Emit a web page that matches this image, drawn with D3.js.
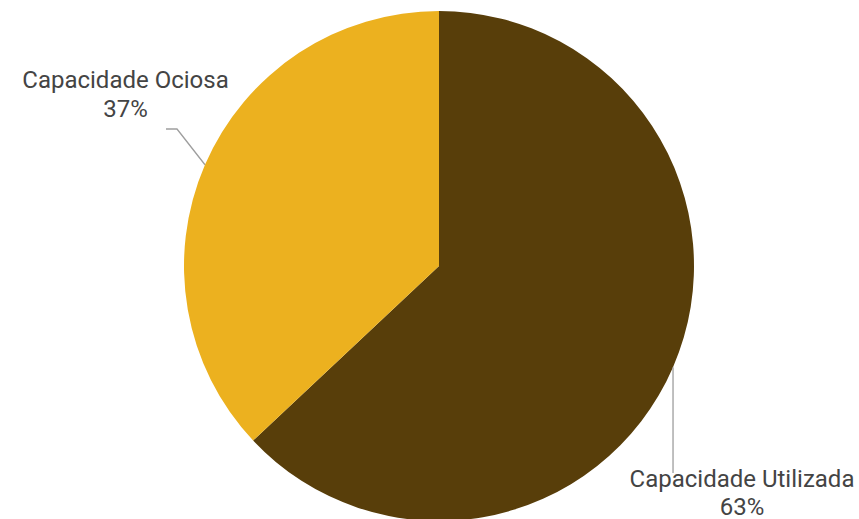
<!DOCTYPE html>
<html><head><meta charset="utf-8">
<script src="https://cdn.jsdelivr.net/npm/d3@7"></script>
<style>html,body{margin:0;padding:0;background:#fff;}svg{display:block;}</style>
</head><body>
<svg id="chart" width="859" height="519"></svg>
<script>
const categories = ["Capacidade Utilizada", "Capacidade Ociosa"];
const values = [63, 37];
const percentLabels = ["63%", "37%"];
const colors = ["#583e0a", "#ecb11f"];

const svg = d3.select("#chart");
const cx = 439, cy = 266, R = 255;
const data = categories.map((c, i) => ({cat: c, v: values[i], lab: percentLabels[i], col: colors[i]}));
const pie = d3.pie().value(d => d.v).sort(null);
const arcs = pie(data);
const arc = d3.arc().innerRadius(0).outerRadius(R);
const g = svg.append("g").attr("transform", `translate(${cx},${cy})`);
g.selectAll("path").data(arcs).join("path")
  .attr("d", arc).attr("fill", d => d.data.col);

const fs = 24;
function midPoint(d) {
  const a = (d.startAngle + d.endAngle) / 2;
  return [cx + R * Math.sin(a), cy - R * Math.cos(a)];
}
// Utilizada label: vertical leader
{
  const d = arcs[0];
  const [px, py] = midPoint(d);
  svg.append("path").attr("d", `M${px},${py}V${473}`)
    .attr("stroke", "#9e9e9e").attr("stroke-width", 1.3).attr("fill", "none");
  const t = svg.append("text").attr("font-family", "Roboto").attr("font-size", fs)
    .attr("fill", "#444").attr("text-anchor", "middle");
  t.append("tspan").attr("x", 742).attr("y", 487).text(d.data.cat);
  t.append("tspan").attr("x", 742).attr("y", 515).text(d.data.lab);
}
// Ociosa label
{
  const d = arcs[1];
  const [px, py] = midPoint(d);
  svg.append("path").attr("d", `M${px},${py}L177,129H166`)
    .attr("stroke", "#9e9e9e").attr("stroke-width", 1.3).attr("fill", "none");
  const t = svg.append("text").attr("font-family", "Roboto").attr("font-size", fs)
    .attr("fill", "#444").attr("text-anchor", "middle");
  t.append("tspan").attr("x", 125.5).attr("y", 88).text(d.data.cat);
  t.append("tspan").attr("x", 125.5).attr("y", 117).text(d.data.lab);
}
</script>
</body></html>
